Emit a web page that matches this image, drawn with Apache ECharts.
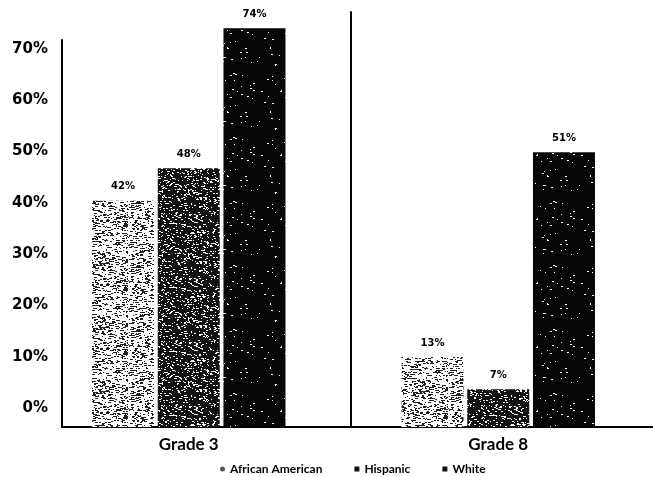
<!DOCTYPE html>
<html>
<head>
<meta charset="utf-8">
<script src="https://cdn.jsdelivr.net/npm/echarts@6/dist/echarts.min.js"></script>
<style>
  html, body { margin: 0; padding: 0; background: #fff; }
  #chart { width: 653px; height: 477px; }
</style>
</head>
<body>
<div id="chart"></div>
<script>
// Share of students at or above proficiency, by grade and group
const categories = ['Grade 3', 'Grade 8'];
const seriesNames = ['African American', 'Hispanic', 'White'];
const africanAmerican = [42, 13];
const hispanic = [48, 7];
const white = [74, 51];
const tickValues = [0, 10, 20, 30, 40, 50, 60, 70];

// Small deterministic generator so the stipple textures look the same on every load
function makeRng(seed) {
  let s = seed >>> 0;
  return function () {
    s = (s * 1664525 + 1013904223) >>> 0;
    return s / 4294967296;
  };
}

// Speckled fill: background colour scattered with short flecks of ink
function stipple(bg, fg, density, maxLen, seed) {
  const c = document.createElement('canvas');
  c.width = 64; c.height = 64;
  const ctx = c.getContext('2d');
  ctx.fillStyle = bg;
  ctx.fillRect(0, 0, 64, 64);
  ctx.fillStyle = fg;
  const rnd = makeRng(seed);
  for (let y = 0; y < 64; y++) {
    for (let x = 0; x < 64; x++) {
      if (rnd() < density) {
        ctx.fillRect(x, y, 1 + Math.floor(rnd() * maxLen), 1);
      }
    }
  }
  return { image: c, repeat: 'repeat' };
}

const fills = [
  stipple('#ffffff', '#202020', 0.17, 3, 7),
  stipple('#121212', '#f4f4f4', 0.12, 2, 19),
  stipple('#060606', '#ffffff', 0.012, 2, 41)
];
const legendSwatch = ['#555555', '#111111', '#111111'];
const legendIcon = ['circle', 'rect', 'rect'];
const valuesBySeries = [africanAmerican, hispanic, white];

const chart = echarts.init(document.getElementById('chart'), null, { renderer: 'canvas' });

const series = seriesNames.map((name, i) => ({
  name: name,
  type: 'bar',
  xAxisIndex: 0,
  yAxisIndex: 0,
  data: valuesBySeries[i],
  barWidth: 62,
  barGap: '6%',
  clip: false,
  itemStyle: { color: fills[i] },
  label: {
    show: true,
    position: 'top',
    distance: 9,
    formatter: '{c}%',
    fontFamily: 'DejaVu Sans',
    fontWeight: 'bold',
    fontSize: 10,
    color: '#000'
  }
}));

const frameLine = { show: true, lineStyle: { color: '#000', width: 2 } };
const hiddenParts = {
  axisTick: { show: false },
  axisLabel: { show: false },
  splitLine: { show: false }
};

chart.setOption({
  animation: false,
  backgroundColor: '#ffffff',
  grid: [
    { left: 34, right: -6, top: 12, bottom: 50 },   // bars
    { left: 62, right: 0, top: 40, bottom: 50 },    // left axis and baseline
    { left: 62, right: 0, top: 49, bottom: 69 },    // percentage ticks
    { left: 351, right: 0, top: 12, bottom: 50 }    // divider between the grades
  ],
  xAxis: [
    {
      gridIndex: 0,
      type: 'category',
      data: categories,
      axisLine: { show: false },
      axisTick: { show: false },
      splitLine: { show: false },
      axisLabel: {
        margin: 9,
        fontFamily: 'Lato',
        fontWeight: 'bold',
        fontSize: 17,
        color: '#000'
      }
    },
    Object.assign({ gridIndex: 1, type: 'value', min: 0, max: 1, axisLine: frameLine }, hiddenParts),
    { gridIndex: 2, type: 'value', min: 0, max: 1, show: false },
    { gridIndex: 3, type: 'value', min: 0, max: 1, show: false }
  ],
  yAxis: [
    { gridIndex: 0, type: 'value', min: 0, max: 77, show: false },
    Object.assign({ gridIndex: 1, type: 'value', min: 0, max: 1, axisLine: frameLine }, hiddenParts),
    {
      gridIndex: 2,
      type: 'value',
      min: tickValues[0],
      max: tickValues[tickValues.length - 1],
      interval: tickValues[1] - tickValues[0],
      axisLine: { show: false },
      axisTick: { show: false },
      splitLine: { show: false },
      axisLabel: {
        margin: 14,
        formatter: '{value}%',
        fontFamily: 'DejaVu Sans',
        fontWeight: 'bold',
        fontSize: 15,
        color: '#000'
      }
    },
    Object.assign({ gridIndex: 3, type: 'value', min: 0, max: 1, axisLine: frameLine }, hiddenParts)
  ],
  legend: {
    left: 215,
    top: 458,
    itemWidth: 5,
    itemHeight: 5,
    itemGap: 32,
    data: seriesNames.map((n, i) => ({
      name: n,
      icon: legendIcon[i],
      itemStyle: { color: legendSwatch[i] }
    })),
    textStyle: {
      fontFamily: 'Lato',
      fontWeight: 'bold',
      fontSize: 12,
      color: '#000'
    }
  },
  series: series
});
</script>
</body>
</html>
